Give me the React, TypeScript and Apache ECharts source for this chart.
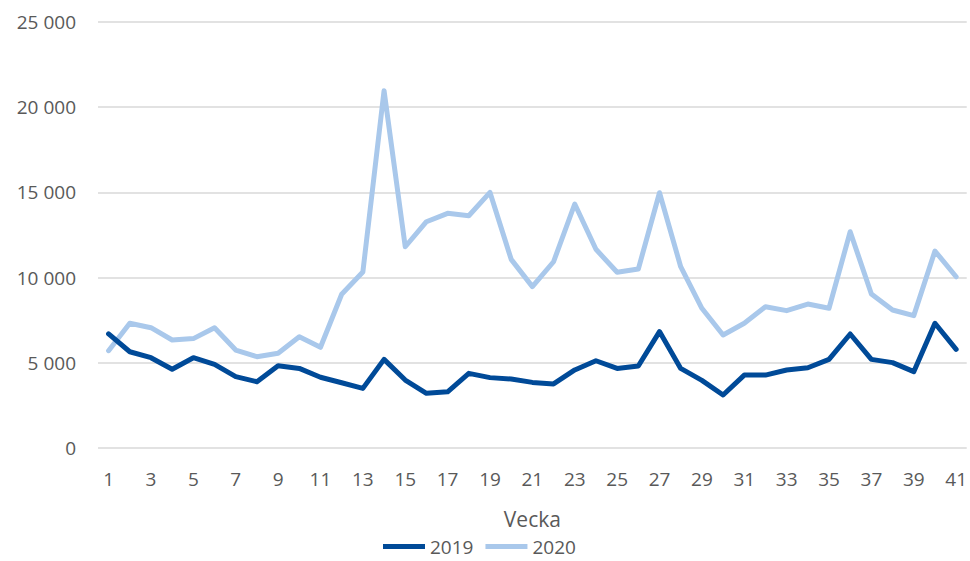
import React, { useEffect, useRef } from "react";
import * as echarts from "echarts";

const weeks: string[] = Array.from({ length: 41 }, (_, i) => String(i + 1));
const series2019: number[] = [
  6700, 5650, 5300, 4620, 5300, 4910, 4190, 3890, 4830, 4670,
  4150, 3830, 3500, 5200, 3990, 3210, 3300, 4380, 4130, 4050,
  3850, 3760, 4580, 5120, 4670, 4810, 6830, 4670, 3970, 3110,
  4280, 4280, 4580, 4710, 5200, 6690, 5200, 5010, 4480, 7320, 5790,
];
const series2020: number[] = [
  5710, 7320, 7060, 6340, 6420, 7060, 5750, 5360, 5560, 6530,
  5910, 9020, 10330, 20970, 11810, 13280, 13770, 13630, 15000, 11070,
  9470, 10930, 14320, 11660, 10310, 10500, 14980, 10640, 8200, 6630,
  7320, 8290, 8060, 8450, 8200, 12690, 9040, 8100, 7770, 11560, 10050,
];
const seriesNames = ["2019", "2020"];
const colors = ["#004A98", "#A9C8EB"];
const fontFamily = "'Open Sans', sans-serif";

export default function App() {
  const ref = useRef<HTMLDivElement>(null);
  useEffect(() => {
    if (!ref.current) return;
    const chart = echarts.init(ref.current, undefined, { renderer: "svg" });
    chart.setOption({
      animation: false,
      color: colors,
      textStyle: { fontFamily },
      grid: { left: 98, right: 3, top: 22, bottom: 113, containLabel: false },
      legend: {
        data: seriesNames,
        bottom: 0,
        left: 378,
        icon: "rect",
        itemWidth: 42,
        itemHeight: 5,
        itemGap: 12,
        textStyle: { color: "#595959", fontSize: 19, fontFamily },
      },
      xAxis: {
        type: "category",
        data: weeks,
        boundaryGap: true,
        name: "Vecka",
        nameLocation: "middle",
        nameGap: 60,
        nameTextStyle: { color: "#595959", fontSize: 21, fontFamily },
        axisLine: { show: false },
        axisTick: { show: false },
        axisLabel: { interval: 1, color: "#595959", fontSize: 19, margin: 21, fontFamily },
      },
      yAxis: {
        type: "value",
        min: 0,
        max: 25000,
        interval: 5000,
        axisLine: { show: false },
        axisTick: { show: false },
        splitLine: { lineStyle: { color: "#D9D9D9", width: 1.5 } },
        axisLabel: {
          color: "#595959",
          fontSize: 19,
          margin: 22,
          fontFamily,
          formatter: (v: number) => (v >= 1000 ? `${Math.floor(v / 1000)} ${String(v % 1000).padStart(3, "0")}` : String(v)),
        },
      },
      series: [
        {
          name: seriesNames[0],
          type: "line",
          data: series2019,
          symbol: "none",
          lineStyle: { width: 5, color: colors[0], cap: "round", join: "round" },
          z: 3,
        },
        {
          name: seriesNames[1],
          type: "line",
          data: series2020,
          symbol: "none",
          lineStyle: { width: 5, color: colors[1], cap: "round", join: "round" },
          z: 2,
        },
      ],
    });
    return () => chart.dispose();
  }, []);
  return <div ref={ref} style={{ width: 970, height: 561, position: "absolute", left: 0, top: 0 }} />;
}
